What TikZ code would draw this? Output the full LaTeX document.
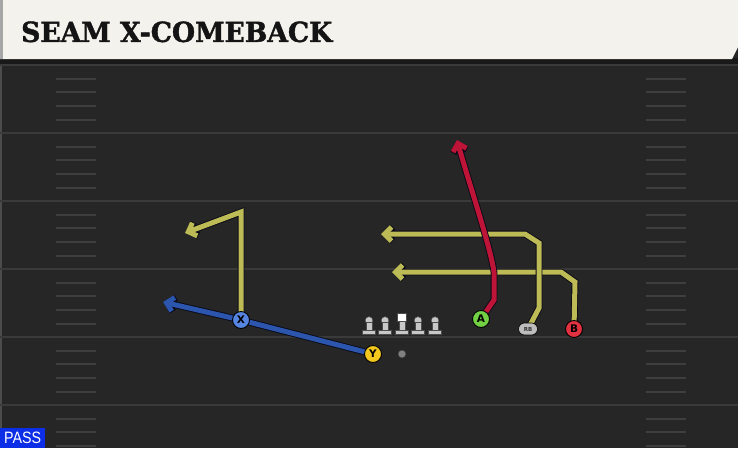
\documentclass[tikz,border=0pt]{standalone}
\usepackage{fontspec}
\usetikzlibrary{arrows.meta,shapes.misc}
\newfontfamily\titlefont[BoldFeatures={FakeBold=1.5}]{DejaVu Serif}
\newfontfamily\lblfont{DejaVu Sans}
\newfontfamily\passfont{Liberation Sans}
\definecolor{fieldbg}{HTML}{262626}
\definecolor{yardline}{HTML}{3A3A3A}
\definecolor{hashc}{HTML}{3E3E3E}
\definecolor{headbg}{HTML}{F4F2EC}
\definecolor{routey}{HTML}{BDBB55}
\definecolor{routeb}{HTML}{2C55AE}
\definecolor{router}{HTML}{BE1438}
\definecolor{px}{HTML}{5585E0}
\definecolor{py}{HTML}{F2C81E}
\definecolor{pa}{HTML}{72D044}
\definecolor{pb}{HTML}{E2323F}
\definecolor{prb}{HTML}{BDBDBD}
\definecolor{passblue}{HTML}{0C2EE6}
\definecolor{outl}{HTML}{0A0A18}
\pgfdeclarelayer{fieldlayer}
\pgfdeclarelayer{routelayer}
\pgfsetlayers{fieldlayer,routelayer,main}
\tikzset{
  route/.style={line width=5pt, line join=miter, draw=#1,
    -{Straight Barb[length=7pt,width=14pt]},
    preaction={draw=outl, line width=6.8pt}},
  player/.style={circle, draw=black, line width=0.9pt, minimum size=17pt,
    inner sep=0pt, font=\lblfont\bfseries\fontsize{10.5}{10.5}\selectfont, text=black},
  rbbox/.style={rounded rectangle, draw=black, line width=0.6pt, fill=prb,
    minimum width=19pt, minimum height=12pt, inner sep=0pt,
    font=\lblfont\bfseries\fontsize{5.5}{5.5}\selectfont, text=black!80},
  yard/.style={draw=yardline, line width=2.5pt},
  hash/.style={draw=hashc, line width=1.5pt},
  lineman/.style={fill=black!22!white, draw=black!70, line width=0.4pt}
}
\begin{document}
\begin{tikzpicture}[x=1pt,y=-1pt]
\useasboundingbox (0,0) rectangle (738,448);
\begin{pgfonlayer}{fieldlayer}
  \fill[fieldbg] (0,0) rectangle (738,448);
  \fill[black!90!white] (0,58) rectangle (738,65);
  \fill[black!70!white] (0,65) rectangle (2,448);
  \foreach \yy in {65,133,201,269,337,405}{
    \draw[yard] (0,\yy) -- (738,\yy);
  }
  \foreach \yy in {65,133,201,269,337,405}{
    \foreach \dd in {14,27,41,55}{
      \pgfmathsetmacro{\hy}{\yy+\dd}
      \draw[hash] (56,\hy) -- (96,\hy);
      \draw[hash] (646,\hy) -- (686,\hy);
    }
  }
  % header
  \fill[headbg] (0,0) -- (738,0) -- (738,47) -- (732,59) -- (0,59) -- cycle;
  \fill[black!35!white] (0,0) rectangle (3,59);
\end{pgfonlayer}

\node[anchor=south west, inner sep=0pt, text=black!92] (title) at (21,42.5)
  {\resizebox{311pt}{20.5pt}{\titlefont\bfseries SEAM X-COMEBACK}};

% players
\node[player, fill=px] (X) at (241,320) {X};
\node[player, fill=py] (Y) at (373,354) {Y};
\node[player, fill=pa] (A) at (481,319) {A};
\node[player, fill=pb] (B) at (574,329) {B};
\node[rbbox] (RB) at (528,329) {RB};

% ball
\node[circle, fill=black!50!white, draw=black!80, line width=0.5pt, minimum size=8pt, inner sep=0pt] (ball) at (402,354) {};

% linemen
\foreach \lx in {369,385,418,435}{
  \fill[lineman] (\lx,320.5) circle (3.8);
  \fill[lineman] (\lx-2.7,322.5) rectangle (\lx+2.7,330);
  \fill[lineman] (\lx-6.5,330) rectangle (\lx+6.5,334.5);
}
\fill[white, draw=black!70, line width=0.4pt] (397.5,313) rectangle (406.5,321.5);
\fill[lineman] (399.3,321.5) rectangle (404.7,330);
\fill[lineman] (395.5,330) rectangle (408.5,334.5);

% route coordinates
\coordinate (xtop) at (241,212);
\coordinate (xend) at (185,233);
\coordinate (bend) at (163,302);
\coordinate (a1) at (494,300);
\coordinate (a2) at (494,272);
\coordinate (aend) at (457,140);
\coordinate (rb1) at (539,308);
\coordinate (rb2) at (539,243);
\coordinate (rb3) at (525,234);
\coordinate (rbend) at (381,234);
\coordinate (b1) at (575,282);
\coordinate (b2) at (561,272);
\coordinate (bbend) at (392,272);

\begin{pgfonlayer}{routelayer}
  \draw[route=routey] (X.center) -- (xtop) -- (xend);
  \draw[route=routey] (B.center) -- (b1) -- (b2) -- (bbend);
  \draw[route=routey] (RB.center) -- (rb1) -- (rb2) -- (rb3) -- (rbend);
  \draw[route=router] (A.center) -- (a1) -- (a2) .. controls (490,245) and (468,180) .. (aend);
  \draw[route=routeb] (Y.center) -- (X.center) -- (bend);
\end{pgfonlayer}

% pass tag
\node[fill=passblue, anchor=south west, minimum width=45pt, minimum height=20pt, inner sep=0pt] (pass) at (0,448) {};
\node[anchor=south west, inner sep=0pt, text=white] (passtxt) at (4,444)
  {\resizebox{37pt}{11.5pt}{\passfont PASS}};
\end{tikzpicture}
\end{document}
